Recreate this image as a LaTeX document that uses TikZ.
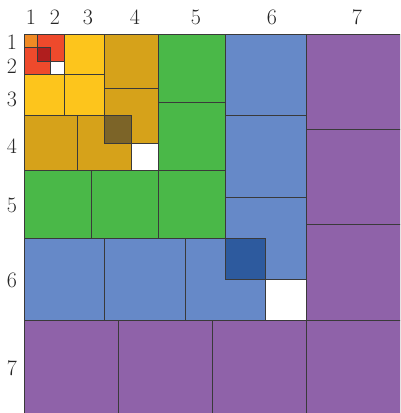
\documentclass[tikz,border=0pt]{standalone}
\definecolor{cA}{HTML}{F08A24}
\definecolor{cB}{HTML}{EE4A2C}
\definecolor{cBd}{HTML}{B01E1E}
\definecolor{cC}{HTML}{FDC51C}
\definecolor{cD}{HTML}{D6A21A}
\definecolor{cDd}{HTML}{7C6428}
\definecolor{cE}{HTML}{4AB848}
\definecolor{cF}{HTML}{6689C8}
\definecolor{cFd}{HTML}{2D5A9E}
\definecolor{cG}{HTML}{8F62A9}
\definecolor{edge}{HTML}{3A3A3A}
\begin{document}
\begin{tikzpicture}[x=1pt,y=1pt,
  sq/.style={draw=edge,line width=0.8pt},
  lab/.style={font=\fontsize{22}{26}\selectfont,inner sep=0pt,text=black!85}]
\useasboundingbox (0,0) rectangle (400,-413);
\clip (0,0) rectangle (400,-413);
\begin{scope}[shift={(24,-34)},x=13.43pt,y=-13.62pt]
% n=1
\filldraw[sq,fill=cA] (0,0) rectangle (1,1);
% n=2
\filldraw[sq,fill=cB] (1,0) rectangle (3,2);
\filldraw[sq,fill=cB] (0,1) rectangle (2,3);
\filldraw[sq,fill=cBd] (1,1) rectangle (2,2);
% n=3
\filldraw[sq,fill=cC] (3,0) rectangle (6,3);
\filldraw[sq,fill=cC] (3,3) rectangle (6,6);
\filldraw[sq,fill=cC] (0,3) rectangle (3,6);
% n=4
\filldraw[sq,fill=cD] (6,0) rectangle (10,4);
\filldraw[sq,fill=cD] (6,4) rectangle (10,8);
\filldraw[sq,fill=cD] (0,6) rectangle (4,10);
\filldraw[sq,fill=cD] (4,6) rectangle (8,10);
\filldraw[sq,fill=cDd] (6,6) rectangle (8,8);
% n=5
\filldraw[sq,fill=cE] (10,0) rectangle (15,5);
\filldraw[sq,fill=cE] (10,5) rectangle (15,10);
\filldraw[sq,fill=cE] (10,10) rectangle (15,15);
\filldraw[sq,fill=cE] (0,10) rectangle (5,15);
\filldraw[sq,fill=cE] (5,10) rectangle (10,15);
% n=6
\filldraw[sq,fill=cF] (15,0) rectangle (21,6);
\filldraw[sq,fill=cF] (15,6) rectangle (21,12);
\filldraw[sq,fill=cF] (15,12) rectangle (21,18);
\filldraw[sq,fill=cF] (0,15) rectangle (6,21);
\filldraw[sq,fill=cF] (6,15) rectangle (12,21);
\filldraw[sq,fill=cF] (12,15) rectangle (18,21);
\filldraw[sq,fill=cFd] (15,15) rectangle (18,18);
% n=7
\filldraw[sq,fill=cG] (21,0) rectangle (28,7);
\filldraw[sq,fill=cG] (21,7) rectangle (28,14);
\filldraw[sq,fill=cG] (21,14) rectangle (28,21);
\filldraw[sq,fill=cG] (21,21) rectangle (28,28);
\filldraw[sq,fill=cG] (0,21) rectangle (7,28);
\filldraw[sq,fill=cG] (7,21) rectangle (14,28);
\filldraw[sq,fill=cG] (14,21) rectangle (21,28);
\end{scope}
% column labels
\node[lab] (t1) at (31,-17) {1};
\node[lab] (t2) at (55,-17) {2};
\node[lab] (t3) at (88,-17) {3};
\node[lab] (t4) at (135,-17) {4};
\node[lab] (t5) at (196,-17) {5};
\node[lab] (t6) at (272,-17) {6};
\node[lab] (t7) at (357,-17) {7};
% row labels
\node[lab] (r1) at (12,-42) {1};
\node[lab] (r2) at (12,-66) {2};
\node[lab] (r3) at (12,-99) {3};
\node[lab] (r4) at (12,-146) {4};
\node[lab] (r5) at (12,-205) {5};
\node[lab] (r6) at (12,-280) {6};
\node[lab] (r7) at (12,-368) {7};
\end{tikzpicture}
\end{document}
